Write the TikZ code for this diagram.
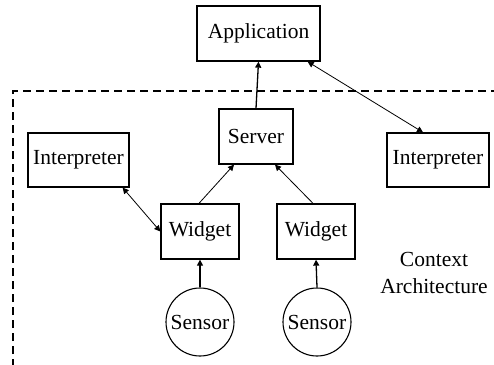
\documentclass[tikz,border=0pt]{standalone}
\usepackage{fontspec}
\setmainfont{Liberation Serif}
\usetikzlibrary{arrows.meta}
\begin{document}
\begin{tikzpicture}[x=1pt,y=-1pt,
  box/.style={draw,line width=1.3pt,rectangle,inner sep=0pt,font=\fontsize{21.5}{24}\selectfont},
  circ/.style={draw,line width=1.1pt,circle,inner sep=0pt,minimum size=68pt,font=\fontsize{21.5}{24}\selectfont},
  conn/.style={line width=0.8pt,-{Triangle[length=6pt,width=6pt]}},
  thickconn/.style={line width=1.3pt,-{Triangle[length=6pt,width=6pt]}},
  biconn/.style={line width=0.8pt,{Triangle[length=6pt,width=6pt]}-{Triangle[length=6pt,width=6pt]}}]
\useasboundingbox (0,0) rectangle (494,364);
\draw[line width=1.2pt,dash pattern=on 8pt off 5pt] (13,380) -- (13,91) -- (510,91);
\node[box,minimum width=123pt,minimum height=55pt] (app) at (258.5,33.5) {Application};
\node[box,minimum width=74pt,minimum height=55pt] (srv) at (256,136.5) {Server};
\node[box,minimum width=101pt,minimum height=54pt] (intl) at (78.5,160) {Interpreter};
\node[box,minimum width=102pt,minimum height=54pt] (intr) at (438,160) {Interpreter};
\node[box,minimum width=78pt,minimum height=55pt] (wl) at (200,231.5) {Widget};
\node[box,minimum width=78pt,minimum height=55pt] (wr) at (316,231.5) {Widget};
\node[circ] (sl) at (200,322) {Sensor};
\node[circ] (sr) at (317,322) {Sensor};
\node[align=center,font=\fontsize{21.5}{27}\selectfont] (ctx) at (434,273) {Context\\Architecture};
\draw[thickconn] (srv.north) -- (app.south);
\draw[biconn] ([xshift=-13pt]app.south east) -- ([xshift=-15pt]intr.north);
\draw[conn] ([xshift=-1pt]wl.north) -- ([xshift=-22pt]srv.south);
\draw[conn] ([xshift=-3pt]wr.north) -- ([xshift=19pt]srv.south);
\draw[biconn] ([xshift=-7pt]intl.south east) -- (wl.west);
\draw[thickconn] (sl.north) -- (wl.south);
\draw[thickconn] (sr.north) -- (wr.south);
\end{tikzpicture}
\end{document}
